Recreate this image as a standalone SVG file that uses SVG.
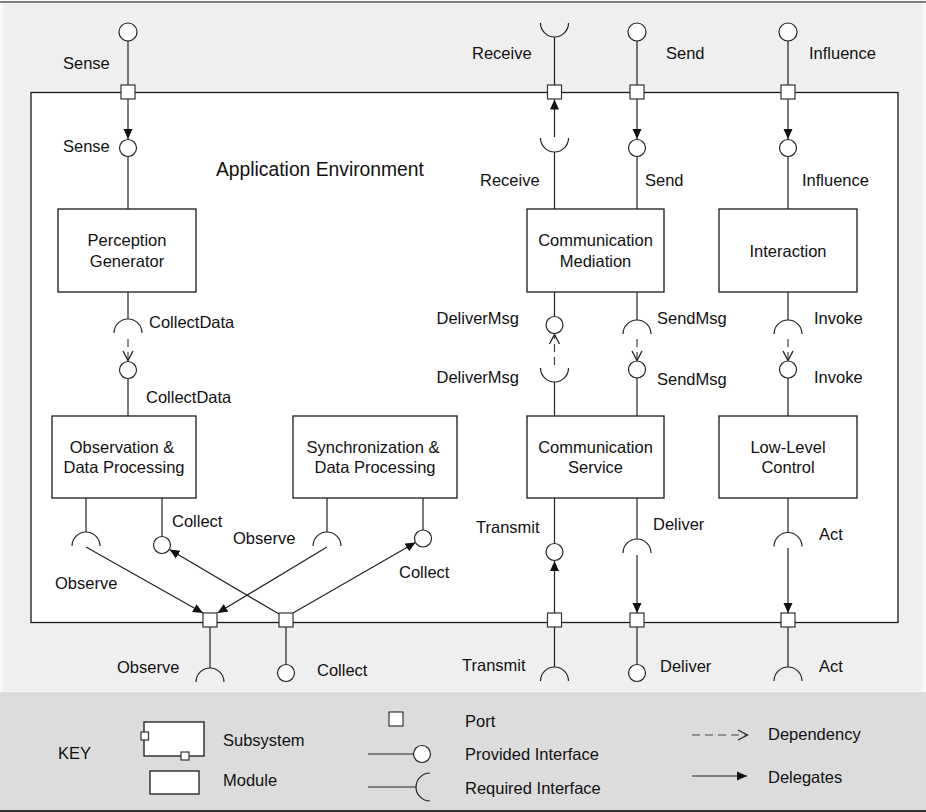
<svg xmlns="http://www.w3.org/2000/svg" width="926" height="812" viewBox="0 0 926 812">
  <style>
    .lbl { font-family: "Liberation Sans", Arial, Helvetica, sans-serif; font-size: 16.5px; fill: #111; }
    .mid { text-anchor: middle; }
    .end { text-anchor: end; }
    .title { font-size: 19.3px; }
    .box { fill: #fff; stroke: #1a1a1a; stroke-width: 1.3; }
    .port { fill: #fff; stroke: #333; stroke-width: 1.2; }
    .prov { fill: #fff; stroke: #222; stroke-width: 1.2; }
    .req { fill: none; stroke: #222; stroke-width: 1.2; }
    .wire { fill: none; stroke: #222; stroke-width: 1.2; }
    .dep { fill: none; stroke: #444; stroke-width: 1.2; stroke-dasharray: 8 5; }
    .vhead { fill: none; stroke: #222; stroke-width: 1.3; }
  </style>
  <defs>
    <marker id="delegate" markerUnits="userSpaceOnUse" markerWidth="10" markerHeight="10" refX="10" refY="5" orient="auto">
      <path d="M0,0.5 L10,5 L0,9.5 z" fill="#111"/>
    </marker>
  </defs>

  <!-- backgrounds -->
  <rect x="0" y="0" width="926" height="812" fill="#fafafa"/>
  <rect x="3" y="3" width="920" height="688" fill="#efefef"/>
  <line x1="0" y1="2" x2="926" y2="2" stroke="#808080" stroke-width="2"/>
  <rect x="0" y="692" width="926" height="118" fill="#dcdcdc"/>
  <line x1="0" y1="811" x2="926" y2="811" stroke="#333" stroke-width="2"/>

  <!-- subsystem boundary -->
  <g id="application-environment">
    <rect class="box" x="31" y="92.5" width="867" height="530"/>
    <text class="lbl title" x="216" y="176">Application Environment</text>
  </g>

  <!-- modules -->
  <g id="perception-generator">
    <rect class="box" x="58" y="209" width="138" height="83"/>
    <text class="lbl mid" x="127" y="246">Perception</text>
    <text class="lbl mid" x="127" y="267">Generator</text>
  </g>
  <g id="communication-mediation">
    <rect class="box" x="527" y="209" width="137" height="83"/>
    <text class="lbl mid" x="595.5" y="246">Communication</text>
    <text class="lbl mid" x="595.5" y="267">Mediation</text>
  </g>
  <g id="interaction">
    <rect class="box" x="719" y="209" width="138" height="83"/>
    <text class="lbl mid" x="788" y="257">Interaction</text>
  </g>
  <g id="observation-data-processing">
    <rect class="box" x="52" y="416" width="144" height="82"/>
    <text class="lbl mid" x="122" y="453">Observation &amp;</text>
    <text class="lbl mid" x="124" y="473">Data Processing</text>
  </g>
  <g id="synchronization-data-processing">
    <rect class="box" x="293" y="416" width="164" height="82"/>
    <text class="lbl mid" x="373" y="453">Synchronization &amp;</text>
    <text class="lbl mid" x="375" y="473">Data Processing</text>
  </g>
  <g id="communication-service">
    <rect class="box" x="527" y="416" width="137" height="82"/>
    <text class="lbl mid" x="595.5" y="453">Communication</text>
    <text class="lbl mid" x="595.5" y="473">Service</text>
  </g>
  <g id="low-level-control">
    <rect class="box" x="719" y="416" width="138" height="82"/>
    <text class="lbl mid" x="788" y="453">Low-Level</text>
    <text class="lbl mid" x="788" y="473">Control</text>
  </g>

  <!-- connectors: stems, delegations and dependencies -->
  <g id="connectors">
    <!-- top stems outside the boundary -->
    <line class="wire" x1="128" y1="41" x2="128" y2="85"/>
    <line class="wire" x1="554.5" y1="37" x2="554.5" y2="85"/>
    <line class="wire" x1="637" y1="41" x2="637" y2="85"/>
    <line class="wire" x1="788" y1="41" x2="788" y2="85"/>
    <!-- top delegations -->
    <line class="wire" x1="128" y1="99" x2="128" y2="139" marker-end="url(#delegate)"/>
    <line class="wire" x1="554.5" y1="137" x2="554.5" y2="99.5" marker-end="url(#delegate)"/>
    <line class="wire" x1="637" y1="99" x2="637" y2="139" marker-end="url(#delegate)"/>
    <line class="wire" x1="788" y1="99" x2="788" y2="139" marker-end="url(#delegate)"/>
    <!-- stems into upper modules -->
    <line class="wire" x1="128" y1="156.5" x2="128" y2="209"/>
    <line class="wire" x1="554.5" y1="152" x2="554.5" y2="209"/>
    <line class="wire" x1="637" y1="156.5" x2="637" y2="209"/>
    <line class="wire" x1="788" y1="156.5" x2="788" y2="209"/>
    <!-- stems below upper modules -->
    <line class="wire" x1="128" y1="292" x2="128" y2="319"/>
    <line class="wire" x1="554.5" y1="292" x2="554.5" y2="316.5"/>
    <line class="wire" x1="637" y1="292" x2="637" y2="320"/>
    <line class="wire" x1="788" y1="292" x2="788" y2="320"/>
    <!-- dependencies (dashed shaft + open head) -->
    <line class="dep" x1="128" y1="339" x2="128" y2="360"/>
    <polyline class="vhead" points="123,351 128,360.5 133,351"/>
    <line class="dep" x1="554.5" y1="365" x2="554.5" y2="335"/>
    <polyline class="vhead" points="549.5,344 554.5,334.5 559.5,344"/>
    <line class="dep" x1="637" y1="339" x2="637" y2="360"/>
    <polyline class="vhead" points="632,351 637,360.5 642,351"/>
    <line class="dep" x1="788" y1="339" x2="788" y2="360"/>
    <polyline class="vhead" points="783,351 788,360.5 793,351"/>
    <!-- stems into lower modules -->
    <line class="wire" x1="128" y1="378.5" x2="128" y2="416"/>
    <line class="wire" x1="554.5" y1="382" x2="554.5" y2="416"/>
    <line class="wire" x1="637" y1="378" x2="637" y2="416"/>
    <line class="wire" x1="788" y1="378" x2="788" y2="416"/>
    <!-- stems below lower modules -->
    <line class="wire" x1="86" y1="498" x2="86" y2="532"/>
    <line class="wire" x1="162" y1="498" x2="162" y2="536.5"/>
    <line class="wire" x1="327" y1="498" x2="327" y2="532"/>
    <line class="wire" x1="423" y1="498" x2="423" y2="530"/>
    <line class="wire" x1="554.5" y1="498" x2="554.5" y2="543.5"/>
    <line class="wire" x1="637" y1="498" x2="637" y2="539"/>
    <line class="wire" x1="788" y1="498" x2="788" y2="532.5"/>
    <!-- bottom delegations -->
    <line class="wire" x1="86" y1="547" x2="203" y2="613" marker-end="url(#delegate)"/>
    <line class="wire" x1="327" y1="547" x2="217.5" y2="613" marker-end="url(#delegate)"/>
    <line class="wire" x1="279" y1="614" x2="169.5" y2="549.5" marker-end="url(#delegate)"/>
    <line class="wire" x1="293" y1="613" x2="415.5" y2="542.5" marker-end="url(#delegate)"/>
    <line class="wire" x1="554.5" y1="613" x2="554.5" y2="561" marker-end="url(#delegate)"/>
    <line class="wire" x1="637" y1="555" x2="637" y2="613" marker-end="url(#delegate)"/>
    <line class="wire" x1="788" y1="548" x2="788" y2="613" marker-end="url(#delegate)"/>
    <!-- bottom stems outside the boundary -->
    <line class="wire" x1="210" y1="627" x2="210" y2="668"/>
    <line class="wire" x1="286" y1="627" x2="286" y2="664.5"/>
    <line class="wire" x1="554.5" y1="627" x2="554.5" y2="667"/>
    <line class="wire" x1="637" y1="627" x2="637" y2="664.5"/>
    <line class="wire" x1="788" y1="627" x2="788" y2="667"/>
  </g>

  <!-- ports on the boundary -->
  <g id="ports">
    <rect class="port" x="121" y="85" width="14" height="14"/>
    <rect class="port" x="547.5" y="85" width="14" height="14"/>
    <rect class="port" x="630" y="85" width="14" height="14"/>
    <rect class="port" x="781" y="85" width="14" height="14"/>
    <rect class="port" x="203" y="613" width="14" height="14"/>
    <rect class="port" x="279" y="613" width="14" height="14"/>
    <rect class="port" x="547.5" y="613" width="14" height="14"/>
    <rect class="port" x="630" y="613" width="14" height="14"/>
    <rect class="port" x="781" y="613" width="14" height="14"/>
  </g>

  <!-- provided interfaces -->
  <g id="provided-interfaces">
    <circle class="prov" cx="128" cy="32" r="9"/>
    <circle class="prov" cx="637" cy="32" r="9"/>
    <circle class="prov" cx="788" cy="32" r="9"/>
    <circle class="prov" cx="128" cy="148" r="8.5"/>
    <circle class="prov" cx="637" cy="148" r="8.5"/>
    <circle class="prov" cx="788" cy="148" r="8.5"/>
    <circle class="prov" cx="554.5" cy="325" r="8.5"/>
    <circle class="prov" cx="128" cy="370" r="8.5"/>
    <circle class="prov" cx="637" cy="369.5" r="8.5"/>
    <circle class="prov" cx="788" cy="369.5" r="8.5"/>
    <circle class="prov" cx="162" cy="545" r="8.5"/>
    <circle class="prov" cx="423" cy="538.5" r="8.5"/>
    <circle class="prov" cx="554.5" cy="552" r="8.5"/>
    <circle class="prov" cx="286" cy="673" r="8.5"/>
    <circle class="prov" cx="637" cy="673" r="8.5"/>
  </g>

  <!-- required interfaces -->
  <g id="required-interfaces">
    <path class="req" d="M540.5,23 A14,14 0 0 0 568.5,23"/>
    <path class="req" d="M540.5,138 A14,14 0 0 0 568.5,138"/>
    <path class="req" d="M114,333 A14,14 0 0 1 142,333"/>
    <path class="req" d="M540.5,368 A14,14 0 0 0 568.5,368"/>
    <path class="req" d="M623,334 A14,14 0 0 1 651,334"/>
    <path class="req" d="M774,334 A14,14 0 0 1 802,334"/>
    <path class="req" d="M72,546 A14,14 0 0 1 100,546"/>
    <path class="req" d="M313,546 A14,14 0 0 1 341,546"/>
    <path class="req" d="M623,553 A14,14 0 0 1 651,553"/>
    <path class="req" d="M774,546.5 A14,14 0 0 1 802,546.5"/>
    <path class="req" d="M196,682 A14,14 0 0 1 224,682"/>
    <path class="req" d="M540.5,681 A14,14 0 0 1 568.5,681"/>
    <path class="req" d="M774,681 A14,14 0 0 1 802,681"/>
  </g>

  <!-- interface labels -->
  <g id="labels">
    <text class="lbl" x="63" y="69">Sense</text>
    <text class="lbl" x="472" y="59">Receive</text>
    <text class="lbl" x="666" y="59">Send</text>
    <text class="lbl" x="809" y="59">Influence</text>
    <text class="lbl" x="63" y="152">Sense</text>
    <text class="lbl" x="480" y="186">Receive</text>
    <text class="lbl" x="645" y="186">Send</text>
    <text class="lbl" x="802" y="186">Influence</text>
    <text class="lbl" x="149" y="328">CollectData</text>
    <text class="lbl" x="146" y="403">CollectData</text>
    <text class="lbl end" x="519" y="324">DeliverMsg</text>
    <text class="lbl end" x="519" y="383">DeliverMsg</text>
    <text class="lbl" x="657" y="324">SendMsg</text>
    <text class="lbl" x="657" y="385">SendMsg</text>
    <text class="lbl" x="814" y="324">Invoke</text>
    <text class="lbl" x="814" y="383">Invoke</text>
    <text class="lbl" x="172" y="527">Collect</text>
    <text class="lbl" x="55" y="589">Observe</text>
    <text class="lbl" x="233" y="544">Observe</text>
    <text class="lbl" x="399" y="578">Collect</text>
    <text class="lbl" x="476" y="533">Transmit</text>
    <text class="lbl" x="653" y="530">Deliver</text>
    <text class="lbl" x="819" y="540">Act</text>
    <text class="lbl" x="117" y="673">Observe</text>
    <text class="lbl" x="317" y="676">Collect</text>
    <text class="lbl" x="462" y="671">Transmit</text>
    <text class="lbl" x="660" y="672">Deliver</text>
    <text class="lbl" x="819" y="672">Act</text>
  </g>

  <!-- legend -->
  <g id="key">
    <text class="lbl" x="58" y="759">KEY</text>
    <rect class="box" x="144" y="722" width="60" height="34" stroke-width="1.2"/>
    <rect class="port" x="141" y="732" width="7.5" height="8"/>
    <rect class="port" x="181" y="752" width="8" height="8"/>
    <text class="lbl" x="223" y="746">Subsystem</text>
    <rect class="box" x="150" y="771" width="49" height="23" stroke-width="1.2"/>
    <text class="lbl" x="223" y="786">Module</text>
    <rect class="port" x="389" y="712" width="14" height="14"/>
    <text class="lbl" x="465" y="727">Port</text>
    <line class="wire" x1="368" y1="754" x2="413.5" y2="754"/>
    <circle class="prov" cx="422" cy="754" r="8.5"/>
    <text class="lbl" x="465" y="760">Provided Interface</text>
    <line class="wire" x1="368" y1="787" x2="416" y2="787"/>
    <path class="req" d="M430,773 A14,14 0 0 0 430,801"/>
    <text class="lbl" x="465" y="794">Required Interface</text>
    <line class="dep" x1="692" y1="735" x2="746" y2="735"/>
    <polyline class="vhead" points="738,730 747.5,735 738,740"/>
    <text class="lbl" x="768" y="740">Dependency</text>
    <line class="wire" x1="692" y1="776" x2="747" y2="776" marker-end="url(#delegate)"/>
    <text class="lbl" x="768" y="783">Delegates</text>
  </g>
</svg>
